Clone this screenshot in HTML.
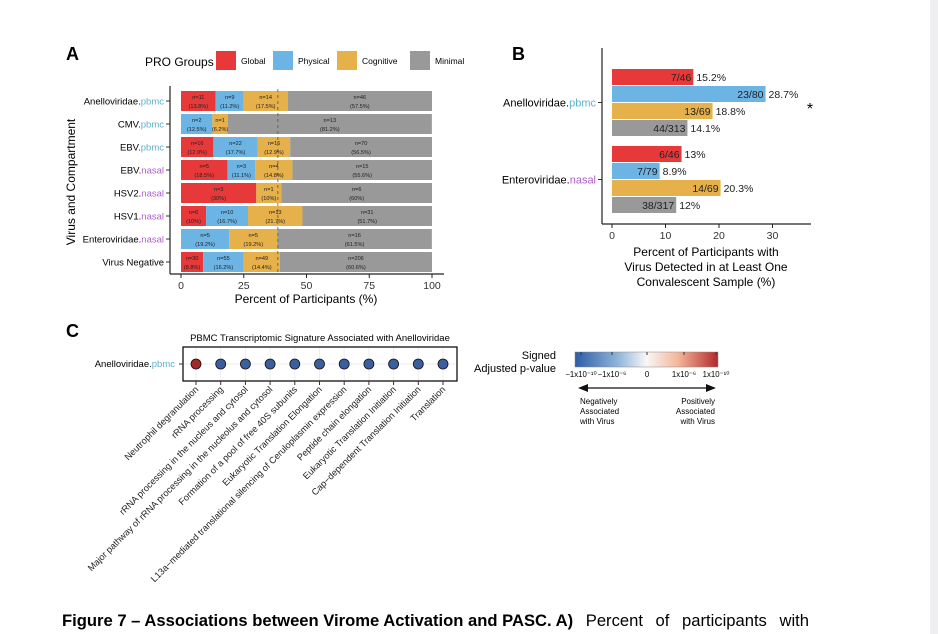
<!DOCTYPE html>
<html><head><meta charset="utf-8"><style>
body{margin:0;background:#fff;}
svg{display:block;font-family:"Liberation Sans",Arial,sans-serif;}
</style></head><body>
<svg width="938" height="634" viewBox="0 0 938 634">
<rect x="0" y="0" width="938" height="634" fill="#fff"/>
<rect x="930" y="0" width="8" height="634" fill="#efeff1"/>
<g id="pa"></g>
<g id="pb"></g>
<g id="pc"></g>
<text x="62" y="626" font-size="16.6"><tspan font-weight="bold">Figure 7 – Associations between Virome Activation and PASC. A)</tspan><tspan word-spacing="8"> Percent of participants with</tspan></text>
</svg>
<script>
const NS='http://www.w3.org/2000/svg';
const COLORS=['#e8393a','#6cb4e4','#e6b04a','#999999'];
const aRows=['Anelloviridae','CMV','EBV','EBV','HSV2','HSV1','Enteroviridae','Virus Negative'];
const aComp=['pbmc','pbmc','pbmc','nasal','nasal','nasal','nasal',''];
const aPct=[[13.8,11.2,17.5,57.5],[0,12.5,6.2,81.2],[12.9,17.7,12.9,56.5],[18.5,11.1,14.8,55.6],[30,0,10,60],[10,16.7,21.7,51.7],[0,19.2,19.2,61.5],[8.8,16.2,14.4,60.6]];
const aN=[[11,9,14,46],[0,2,1,13],[16,22,16,70],[5,3,4,15],[3,0,1,6],[6,10,13,31],[0,5,5,16],[30,55,49,206]];
const aTicks=[0,25,50,75,100];
const groups=['Global','Physical','Cognitive','Minimal'];
const bCats=['Anelloviridae','Enteroviridae'];
const bComp=['pbmc','nasal'];
const bPct=[[15.2,28.7,18.8,14.1],[13,8.9,20.3,12]];
const bFrac=[['7/46','23/80','13/69','44/313'],['6/46','7/79','14/69','38/317']];
const bTicks=[0,10,20,30];
const cPaths=['Neutrophil degranulation','rRNA processing','rRNA processing in the nucleus and cytosol','Major pathway of rRNA processing in the nucleolus and cytosol','Formation of a pool of free 40S subunits','Eukaryotic Translation Elongation','L13a\u2212mediated translational silencing of Ceruloplasmin expression','Peptide chain elongation','Eukaryotic Translation Initiation','Cap\u2212dependent Translation Initiation','Translation'];
const cSign=[1,-1,-1,-1,-1,-1,-1,-1,-1,-1,-1];
const compColor={pbmc:'#5fb0cc',nasal:'#b05ccc'};
function el(p,t,a,txt){const e=document.createElementNS(NS,t);for(const k in a)e.setAttribute(k,a[k]);if(txt!==undefined)e.textContent=txt;p.appendChild(e);return e;}
function label(p,x,y,name,comp,fs,anchor){const t=el(p,'text',{x:x,y:y,'font-size':fs,'text-anchor':anchor||'end'});

el(t,'tspan',{},name+(comp?'.':''));if(comp){el(t,'tspan',{fill:compColor[comp]},comp);}return t;}
// Panel A
(function(){
const g=document.getElementById('pa');
const xa=v=>181+v*2.51, ya=i=>101+i*23;
el(g,'text',{x:66,y:60,'font-size':18,'font-weight':'bold'},'A');
el(g,'text',{x:145,y:66,'font-size':12},'PRO Groups');
const lx=[216,273,337,410];
groups.forEach((gname,k)=>{const r=el(g,'rect',{x:lx[k],y:51,width:20,height:19,fill:COLORS[k]});

const t=el(g,'text',{x:lx[k]+25,y:64,'font-size':8.5},gname);});
aRows.forEach((rname,i)=>{let cum=0;const yc=ya(i);
aPct[i].forEach((v,k)=>{if(v<=0)return;const x0=xa(cum),x1=xa(Math.min(100,cum+v));cum+=v;
const r=el(g,'rect',{x:x0,y:yc-10,width:Math.max(0,x1-x0),height:20,fill:COLORS[k]});

const cx=(x0+x1)/2;el(g,'text',{x:cx,y:yc-2,'font-size':5.6,'text-anchor':'middle',fill:'#222'},'n='+aN[i][k]);
el(g,'text',{x:cx,y:yc+7,'font-size':5.6,'text-anchor':'middle',fill:'#222'},'('+v+'%)');});
if(cum<100){el(g,'rect',{x:xa(cum),y:yc-10,width:xa(100)-xa(cum),height:20,fill:COLORS[3]});}
label(g,164,yc+3.5,rname,aComp[i],9.5);
el(g,'line',{x1:166,x2:170,y1:yc,y2:yc,stroke:'#333'});});
el(g,'line',{x1:xa(38.6),x2:xa(38.6),y1:89,y2:274,stroke:'#555','stroke-dasharray':'3,3','stroke-width':0.8});
el(g,'line',{x1:170,x2:170,y1:86,y2:274,stroke:'#222','stroke-width':1.2});
el(g,'line',{x1:170,x2:444,y1:274,y2:274,stroke:'#222','stroke-width':1.2});
aTicks.forEach(v=>{el(g,'line',{x1:xa(v),x2:xa(v),y1:274,y2:278,stroke:'#222'});
const t=el(g,'text',{x:xa(v),y:289,'font-size':10.5,'text-anchor':'middle',fill:'#333'},v);});
el(g,'text',{x:306,y:303,'font-size':12,'text-anchor':'middle'},'Percent of Participants (%)');
el(g,'text',{x:0,y:0,'font-size':12,'text-anchor':'middle',transform:'translate(75,182) rotate(-90)'},'Virus and Compartment');
})();
// Panel B
(function(){
const g=document.getElementById('pb');
const xb=v=>612+v*5.35;
const yb=(c,k)=>77+c*77+k*17;
el(g,'text',{x:512,y:60,'font-size':18,'font-weight':'bold'},'B');
bCats.forEach((cname,c)=>{bPct[c].forEach((v,k)=>{const y=yb(c,k);
const r=el(g,'rect',{x:xb(0),y:y-8,width:xb(v)-xb(0),height:16,fill:COLORS[k]});

el(g,'text',{x:xb(v)-2,y:y+4,'font-size':10.5,'text-anchor':'end',fill:'#222'},bFrac[c][k]);
el(g,'text',{x:xb(v)+3,y:y+4,'font-size':10.5,fill:'#222'},v+'%');});
const ym=(yb(c,0)+yb(c,3))/2;label(g,596,ym+4,cname,bComp[c],11);
el(g,'line',{x1:598,x2:602,y1:ym,y2:ym,stroke:'#333'});});
el(g,'text',{x:810,y:114,'font-size':16,'text-anchor':'middle'},'*');
el(g,'line',{x1:602,x2:602,y1:48,y2:224,stroke:'#222','stroke-width':1.2});
el(g,'line',{x1:602,x2:811,y1:224,y2:224,stroke:'#222','stroke-width':1.2});
bTicks.forEach(v=>{el(g,'line',{x1:xb(v),x2:xb(v),y1:224,y2:228,stroke:'#222'});
const t=el(g,'text',{x:xb(v),y:239,'font-size':10.5,'text-anchor':'middle',fill:'#333'},v);});
['Percent of Participants with','Virus Detected in at Least One','Convalescent Sample (%)'].forEach((s,i)=>el(g,'text',{x:706,y:256+i*15,'font-size':12,'text-anchor':'middle'},s));
})();
// Panel C
(function(){
const g=document.getElementById('pc');
const xc=i=>196+i*24.7;
el(g,'text',{x:66,y:337,'font-size':18,'font-weight':'bold'},'C');
el(g,'text',{x:320,y:341,'font-size':9.5,'text-anchor':'middle'},'PBMC Transcriptomic Signature Associated with Anelloviridae');
el(g,'line',{x1:183,x2:457,y1:364,y2:364,stroke:'#eee','stroke-width':1});
cPaths.forEach((p,i)=>{el(g,'line',{x1:xc(i),x2:xc(i),y1:347,y2:381,stroke:'#eee'});});
el(g,'rect',{x:183,y:347,width:274,height:34,fill:'none',stroke:'#111','stroke-width':1.3});
label(g,175,367,'Anelloviridae','pbmc',9.5);
el(g,'line',{x1:179,x2:183,y1:364,y2:364,stroke:'#333'});
cPaths.forEach((p,i)=>{const c=el(g,'circle',{cx:xc(i),cy:364,r:5,fill:cSign[i]>0?'#a4282a':'#3b5f9e',stroke:'#111','stroke-width':0.8});

el(g,'line',{x1:xc(i),x2:xc(i),y1:381,y2:385,stroke:'#333'});
const t=el(g,'text',{x:0,y:0,'font-size':9.2,'text-anchor':'end',fill:'#222',transform:'translate('+(xc(i)+3)+',390) rotate(-45)'},p);
});
const defs=el(g,'defs',{});const lg=el(defs,'linearGradient',{id:'cb',x1:0,x2:1,y1:0,y2:0});
[['0','#2d5da8'],['0.3','#8fb5d9'],['0.5','#f7f7f7'],['0.72','#f3b79a'],['1','#b2282b']].forEach(s=>el(lg,'stop',{offset:s[0],'stop-color':s[1]}));
el(g,'text',{x:556,y:359,'font-size':11,'text-anchor':'end'},'Signed');
el(g,'text',{x:556,y:372,'font-size':11,'text-anchor':'end'},'Adjusted p-value');
el(g,'rect',{x:575,y:352,width:143,height:15,fill:'url(#cb)',stroke:'#888','stroke-width':0.5});
const cbl=['\u22121x10\u207b\u00b9\u2070','\u22121x10\u207b\u2076','0','1x10\u207b\u2076','1x10\u207b\u00b9\u2070'];
const cbx=[581,612,647,684,716];
cbl.forEach((s,i)=>{el(g,'line',{x1:cbx[i],x2:cbx[i],y1:352,y2:355,stroke:'#333'});el(g,'text',{x:cbx[i],y:377,'font-size':7.8,'text-anchor':'middle'},s);});
el(g,'line',{x1:584,x2:710,y1:388,y2:388,stroke:'#111','stroke-width':1.2});
el(g,'path',{d:'M578 388 L588 384 L588 392 Z',fill:'#111'});
el(g,'path',{d:'M716 388 L706 384 L706 392 Z',fill:'#111'});
['Negatively','Associated','with Virus'].forEach((s,i)=>el(g,'text',{x:580,y:404+i*10,'font-size':8},s));
['Positively','Associated','with Virus'].forEach((s,i)=>el(g,'text',{x:715,y:404+i*10,'font-size':8,'text-anchor':'end'},s));
})();
</script>
</body></html>
